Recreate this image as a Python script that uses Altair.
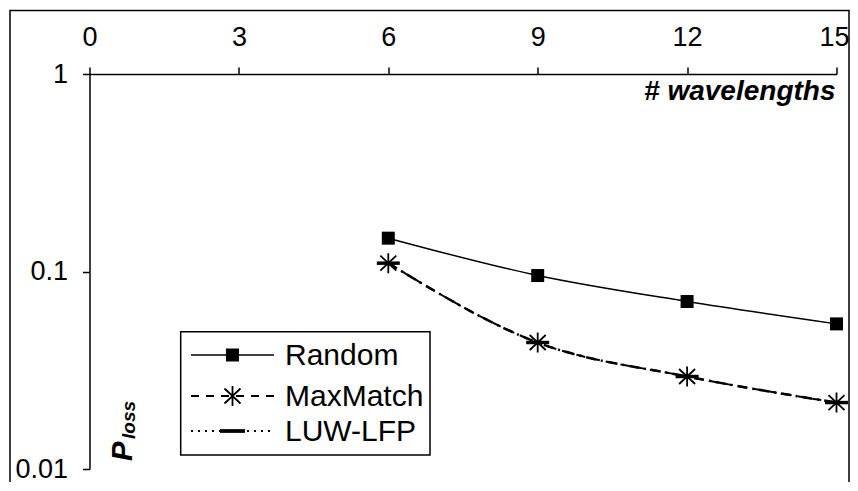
import altair as alt
import pandas as pd

# ---- data ----
wavelengths = [6, 9, 12, 15]
random_vals = [0.1475, 0.0954, 0.0705, 0.0543]
maxmatch_vals = [0.1102, 0.0437, 0.0294, 0.0217]
luwlfp_vals = [0.1102, 0.0437, 0.0294, 0.0217]
x_ticks = [0, 3, 6, 9, 12, 15]
y_ticks = [0.01, 0.1, 1]
series_names = ["Random", "MaxMatch", "LUW-LFP"]

rows = []
for name, vals in zip(series_names, [random_vals, maxmatch_vals, luwlfp_vals]):
    for w, v in zip(wavelengths, vals):
        rows.append({"w": w, "p": v, "series": name})
df = pd.DataFrame(rows)

FONT = "Liberation Sans"
W, H = 747, 395

ASTERISK = "M0,-1V1M-0.8,-0.75L0.8,0.75M-0.8,0.75L0.8,-0.75"
BAR = "M-1,-0.15H1V0.15H-1Z"

xscale = alt.Scale(domain=[0, 15], nice=False, zero=False)
yscale = alt.Scale(type="log", domain=[0.01, 1], nice=False)

xaxis = alt.Axis(orient="top", values=x_ticks, title=None, grid=False,
                 tickSize=7, tickWidth=1.5, tickColor="black",
                 domainColor="black", domainWidth=1.5,
                 labelFont=FONT, labelFontSize=27, labelColor="black",
                 labelBaseline="alphabetic", labelPadding=22, labelFlush=False,
                 labelOffset={"condition": {"test": "datum.value == 15", "value": -2.5}, "value": 0})
yaxis = alt.Axis(orient="left", values=y_ticks, title=None, grid=False, format="~g",
                 tickSize=7, tickWidth=1.5, tickColor="black",
                 domainColor="black", domainWidth=1.5,
                 labelFont=FONT, labelFontSize=27, labelColor="black",
                 labelPadding=15, labelBaseline="middle")

X = alt.X("w:Q", scale=xscale, axis=xaxis)
Y = alt.Y("p:Q", scale=yscale, axis=yaxis)

base = alt.Chart(df)

line_random = base.transform_filter(alt.datum.series == "Random").mark_line(
    color="black", strokeWidth=1.5, interpolate="monotone").encode(x=X, y=Y)
line_mm = base.transform_filter(alt.datum.series == "MaxMatch").mark_line(
    color="black", strokeWidth=2, strokeDash=[9, 6], interpolate="monotone").encode(x=X, y=Y)
line_luw = base.transform_filter(alt.datum.series == "LUW-LFP").mark_line(
    color="black", strokeWidth=2.5, strokeDash=[10, 5, 2, 5], interpolate="monotone").encode(x=X, y=Y)

pt_random = base.transform_filter(alt.datum.series == "Random").mark_point(
    shape="square", filled=True, color="black", size=169, opacity=1).encode(x=X, y=Y)
pt_mm = base.transform_filter(alt.datum.series == "MaxMatch").mark_point(
    shape=ASTERISK, filled=False, color="black", size=400, strokeWidth=1.8, opacity=1).encode(x=X, y=Y)
pt_luw = base.transform_filter(alt.datum.series == "LUW-LFP").mark_point(
    shape=BAR, filled=True, color="black", size=529, opacity=1).encode(x=X, y=Y)

one = pd.DataFrame({"a": [0]})
deco = alt.Chart(one)

# outer frame
frame = deco.mark_rect(fill=None, stroke="black", strokeWidth=1.5).encode(
    x=alt.value(-79.5), x2=alt.value(759.5), y=alt.value(-63.5), y2=alt.value(460))

# axis title and y label
xtitle = deco.mark_text(text="# wavelengths", font=FONT, fontSize=28, fontWeight="bold",
                        fontStyle="italic", align="right", baseline="alphabetic",
                        color="black").encode(x=alt.value(746), y=alt.value(26))
ptitle = deco.mark_text(text="P", font=FONT, fontSize=29, fontWeight="bold", fontStyle="italic",
                        angle=270, align="left", baseline="alphabetic", color="black").encode(
    x=alt.value(42.5), y=alt.value(387))
psub = deco.mark_text(text="loss", font=FONT, fontSize=19, fontWeight="bold", fontStyle="italic",
                      angle=270, align="left", baseline="alphabetic", color="black").encode(
    x=alt.value(45), y=alt.value(365))

# legend
lx0, lx1, lmid, ltxt = 101.5, 184.5, 143, 195.5
ly = [281, 322, 357]
leg_box = deco.mark_rect(fill="white", stroke="black", strokeWidth=1.5).encode(
    x=alt.value(91.2), x2=alt.value(340.5), y=alt.value(257.7), y2=alt.value(381))
leg_l1 = deco.mark_rule(color="black", strokeWidth=1.5).encode(
    x=alt.value(lx0), x2=alt.value(lx1), y=alt.value(ly[0]))
leg_l2 = deco.mark_rule(color="black", strokeWidth=2, strokeDash=[8, 7]).encode(
    x=alt.value(lx0), x2=alt.value(lx1), y=alt.value(ly[1]))
leg_l3 = deco.mark_rule(color="black", strokeWidth=2, strokeDash=[2, 5]).encode(
    x=alt.value(lx0), x2=alt.value(lx1), y=alt.value(ly[2]))
leg_p1 = deco.mark_point(shape="square", filled=True, color="black", size=169, opacity=1).encode(
    x=alt.value(lmid), y=alt.value(ly[0]))
leg_p2 = deco.mark_point(shape=ASTERISK, filled=False, color="black", size=400, strokeWidth=1.8,
                         opacity=1).encode(x=alt.value(lmid), y=alt.value(ly[1]))
leg_p3 = deco.mark_point(shape=BAR, filled=True, color="black", size=625, opacity=1).encode(
    x=alt.value(lmid), y=alt.value(ly[2]))
leg_texts = [deco.mark_text(text=name, font=FONT, fontSize=30, align="left", baseline="middle",
                            color="black").encode(x=alt.value(ltxt), y=alt.value(yy + 1))
             for name, yy in zip(series_names, ly)]

chart = alt.layer(
    frame, line_random, line_luw, line_mm, pt_random, pt_mm, pt_luw,
    xtitle, ptitle, psub, leg_box, leg_l1, leg_l2, leg_l3, leg_p1, leg_p2, leg_p3, *leg_texts
).properties(
    width=W, height=H,
    autosize=alt.AutoSizeParams(type="none"),
    padding={"left": 81.5, "top": 66, "right": 13.5, "bottom": 13},
    background="white",
).configure_view(stroke=None)

chart.save("out.html", embed_options={"renderer": "svg", "actions": False})
